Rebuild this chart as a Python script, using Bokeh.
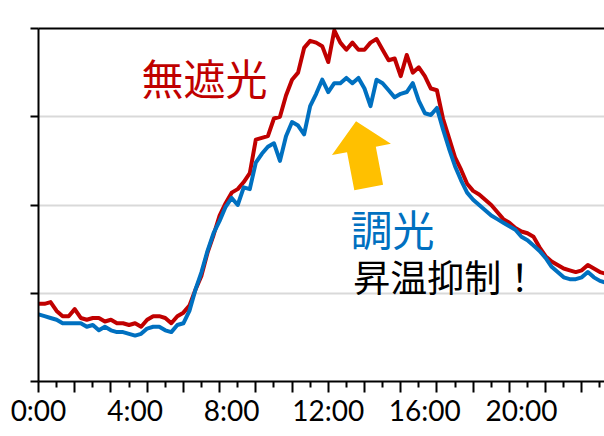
import math

from bokeh.core.properties import value
from bokeh.embed import file_html
from bokeh.models import FixedTicker, Grid, LinearAxis, Range1d
from bokeh.plotting import figure
from bokeh.resources import INLINE

# Time of day (hours), 15-minute logging interval
hours = [i * 0.25 for i in range(95)]

# Greenhouse air temperature without shading (deg C)
temp_unshaded = [
    24.4, 24.4, 24.5, 24.0, 23.7, 23.7, 24.1, 23.6, 23.5, 23.6,
    23.6, 23.4, 23.5, 23.3, 23.3, 23.2, 23.3, 23.1, 23.5, 23.7,
    23.7, 23.6, 23.3, 23.7, 23.9, 24.3, 25.2, 26.0, 27.3, 28.3,
    29.4, 30.1, 30.7, 30.9, 31.3, 31.8, 33.7, 33.8, 33.9, 34.9,
    35.0, 36.2, 37.1, 37.5, 38.9, 39.3, 39.2, 39.0, 38.1, 39.9,
    39.2, 38.8, 39.2, 38.8, 38.8, 39.2, 39.4, 38.8, 38.2, 38.3,
    37.3, 38.5, 37.5, 37.8, 37.3, 36.6, 36.5, 34.9, 33.8, 32.7,
    32.0, 31.2, 30.8, 30.6, 30.3, 30.0, 29.6, 29.2, 29.0, 28.7,
    28.5, 28.4, 28.2, 27.6, 27.1, 26.8, 26.6, 26.4, 26.3, 26.2,
    26.3, 26.6, 26.4, 26.2, 26.1,
]

# Greenhouse air temperature with light-control screen (deg C)
temp_dimmed = [
    23.8, 23.7, 23.6, 23.5, 23.3, 23.3, 23.3, 23.3, 23.1, 23.2,
    22.9, 23.1, 22.9, 22.8, 22.8, 22.7, 22.6, 22.7, 23.0, 23.1,
    23.1, 22.9, 22.8, 23.2, 23.3, 24.0, 25.2, 26.2, 27.4, 28.4,
    29.1, 29.9, 30.4, 30.0, 31.0, 30.9, 32.4, 32.9, 33.3, 33.5,
    32.5, 33.9, 34.7, 34.5, 34.0, 35.6, 36.3, 37.1, 36.4, 36.9,
    36.9, 37.2, 36.9, 37.2, 36.6, 35.6, 37.1, 36.9, 36.5, 36.1,
    36.3, 36.4, 36.9, 35.9, 35.2, 35.1, 35.5, 34.3, 33.2, 32.2,
    31.4, 30.7, 30.3, 30.0, 29.7, 29.4, 29.2, 29.0, 28.8, 28.6,
    28.2, 28.0, 27.7, 27.4, 27.0, 26.5, 26.2, 25.9, 25.8, 25.8,
    25.9, 26.2, 25.9, 25.7, 25.6,
]

label_hours = [0, 4, 8, 12, 16, 20]
time_labels = ["0:00", "4:00", "8:00", "12:00", "16:00", "20:00"]
temp_ticks = [20, 25, 30, 35, 40]

RED = "#C00000"
BLUE = "#0070C0"
ORANGE = "#FFC000"

X0, X1 = 0, 23.44
Y0, Y1 = 20, 40
FRAME_W, FRAME_H = 566, 353

p = figure(
    width=604, height=436,
    output_backend="svg", toolbar_location=None,
    x_range=Range1d(X0, X1), y_range=Range1d(Y0, Y1),
    x_axis_type=None, y_axis_type=None,
    min_border_left=38, min_border_right=0,
    min_border_top=28, min_border_bottom=55,
)
p.outline_line_color = None
p.background_fill_color = "white"
p.border_fill_color = "white"

p.add_layout(Grid(dimension=1, ticker=FixedTicker(ticks=[25, 30, 35]),
                  grid_line_color="#D9D9D9", grid_line_width=2))

yaxis = LinearAxis(
    ticker=FixedTicker(ticks=temp_ticks),
    major_tick_in=0, major_tick_out=8,
    major_tick_line_width=2, major_tick_line_color="black",
    minor_tick_line_color=None,
    axis_line_width=2, axis_line_color="black",
    major_label_overrides={t: "" for t in temp_ticks},
    major_label_text_font_size="0px", major_label_standoff=0,
)
p.add_layout(yaxis, "left")

top = LinearAxis(
    ticker=FixedTicker(ticks=[]),
    axis_line_width=2, axis_line_color="black",
    major_tick_line_color=None, minor_tick_line_color=None,
    major_label_text_font_size="0px", major_label_standoff=0,
)
p.add_layout(top, "above")

# long marks every 1.5 h, short marks halfway between
long_marks = [k * 1.5 for k in range(16)]
short_marks = [k * 1.5 + 0.75 for k in range(16)]
xticks = LinearAxis(
    ticker=FixedTicker(ticks=long_marks, minor_ticks=short_marks),
    major_tick_in=0, major_tick_out=11,
    minor_tick_in=0, minor_tick_out=6,
    major_tick_line_width=2, minor_tick_line_width=2,
    major_tick_line_color="black", minor_tick_line_color="black",
    axis_line_width=2, axis_line_color="black",
    major_label_overrides={t: "" for t in long_marks},
    major_label_text_font_size="0px", major_label_standoff=0,
)
p.add_layout(xticks, "below")

# hour labels every 4 h on their own row beneath the tick marks
xlabels = LinearAxis(
    ticker=FixedTicker(ticks=label_hours),
    major_tick_line_color=None, minor_tick_line_color=None,
    major_tick_in=0, major_tick_out=0,
    axis_line_color=None,
    major_label_overrides=dict(zip(label_hours, time_labels)),
    major_label_text_font="Lato", major_label_text_font_size="28px",
    major_label_text_color="black", major_label_standoff=0,
)
p.add_layout(xlabels, "below")

p.line(hours, temp_unshaded, line_color=RED, line_width=4, line_join="round")
p.line(hours, temp_dimmed, line_color=BLUE, line_width=4, line_join="round")

jp = value("Noto Sans CJK JP")
p.text(x=[4.27], y=[37.3], text=["無遮光"], text_font=jp, text_font_size="42px",
       text_color=RED, text_align="left", text_baseline="middle")
p.text(x=[12.92], y=[28.7], text=["調光"], text_font=jp, text_font_size="42px",
       text_color=BLUE, text_align="left", text_baseline="middle")
p.text(x=[13.04], y=[26.0], text=["昇温抑制！"], text_font=jp, text_font_size="37px",
       text_color="black", text_align="left", text_baseline="middle")

# Block arrow pointing up at the gap between the two curves
tip_x, tip_y = 13.15, 34.75
length, head_len, head_w, shaft_w, tilt = 67.6, 28.8, 60, 29.3, math.radians(10.8)
sx = FRAME_W / (X1 - X0)
sy = FRAME_H / (Y1 - Y0)
local = [
    (0, 0), (head_w / 2, head_len), (shaft_w / 2, head_len), (shaft_w / 2, length),
    (-shaft_w / 2, length), (-shaft_w / 2, head_len), (-head_w / 2, head_len),
]
ax, ay = [], []
for pp, aa in local:
    dx = aa * math.sin(tilt) + pp * math.cos(tilt)
    dy = aa * math.cos(tilt) - pp * math.sin(tilt)
    ax.append(tip_x + dx / sx)
    ay.append(tip_y - dy / sy)
p.patch(ax, ay, fill_color=ORANGE, line_color=None)

open("out.html", "w").write(file_html(p, INLINE))
